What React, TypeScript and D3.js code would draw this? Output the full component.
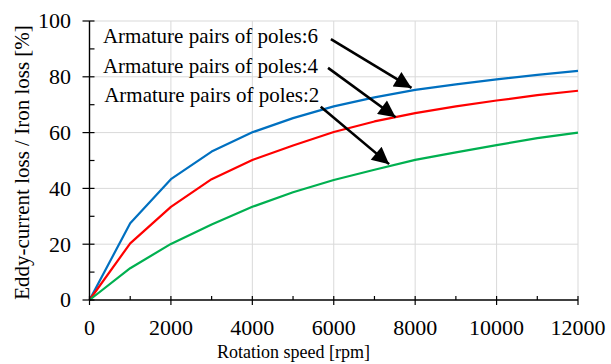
import React from "react";
import * as d3 from "d3";

// Rotation speed [rpm]
const speeds = [0, 1000, 2000, 3000, 4000, 5000, 6000, 7000, 8000, 9000, 10000, 11000, 12000];
// Eddy-current loss share of iron loss [%] per armature pole-pair count
const poles6 = [0, 27.5, 43.3, 53.2, 60.1, 65.2, 69.4, 72.6, 75.3, 77.3, 79.1, 80.7, 82.1];
const poles4 = [0, 20.3, 33.4, 43.3, 50.2, 55.4, 60.2, 64.0, 67.0, 69.4, 71.5, 73.4, 75.0];
const poles2 = [0, 11.4, 20.1, 27.1, 33.4, 38.6, 43.0, 46.7, 50.2, 52.9, 55.5, 58.0, 60.0];

const xTicks = [0, 2000, 4000, 6000, 8000, 10000, 12000];
const xMinorTicks = [1000, 3000, 5000, 7000, 9000, 11000];
const yTicks = [0, 20, 40, 60, 80, 100];
const yMinorTicks = [10, 30, 50, 70, 90];

const seriesLabels = [
  "Armature pairs of poles:6",
  "Armature pairs of poles:4",
  "Armature pairs of poles:2",
];
const seriesColors = ["#0070C0", "#FF0000", "#00B050"];
// Label anchor (rpm, %) and arrow start/end (rpm, %) for each annotation
const labelAt: [number, number][] = [
  [330, 92.1],
  [330, 81.5],
  [360, 70.9],
];
const arrowFrom: [number, number][] = [
  [5930, 93.5],
  [5860, 83.2],
  [5680, 69.3],
];
const arrowTo: [number, number][] = [
  [7910, 76.0],
  [7520, 65.5],
  [7360, 48.7],
];

const W = 611;
const H = 364;
const M = { left: 89.5, right: 33, top: 21, bottom: 64 };
const FONT = "'Liberation Serif', 'Times New Roman', Times, serif";
const textStyle = { fontFamily: FONT };

export default function App() {
  const x = d3.scaleLinear().domain([0, 12000]).range([M.left, W - M.right]);
  const y = d3.scaleLinear().domain([0, 100]).range([H - M.bottom, M.top]);
  const line = d3
    .line<number>()
    .x((_, i) => x(speeds[i]))
    .y((v) => y(v));
  const series = [poles6, poles4, poles2];
  const x0 = x(0);
  const y0 = y(0);

  return (
    <svg
      width={W}
      height={H}
      style={{ position: "absolute", left: 0, top: 0, background: "#fff" }}
    >
      <defs>
        <marker
          id="arrowHead"
          viewBox="0 0 10 10"
          refX="10"
          refY="5"
          markerWidth="8"
          markerHeight="6.5"
          markerUnits="strokeWidth"
          orient="auto"
        >
          <path d="M0,0 L10,5 L0,10 z" fill="#000" />
        </marker>
      </defs>
      <rect x={0} y={0} width={W} height={H} fill="#fff" />

      {/* grid */}
      {xTicks.slice(1).map((t) => (
        <line key={"gx" + t} x1={x(t)} x2={x(t)} y1={y(0)} y2={y(100)} stroke="#d9d9d9" strokeWidth={1} />
      ))}
      {yTicks.slice(1).map((t) => (
        <line key={"gy" + t} x1={x(0)} x2={x(12000)} y1={y(t)} y2={y(t)} stroke="#d9d9d9" strokeWidth={1} />
      ))}

      {/* curves */}
      {series.map((s, i) => (
        <path key={"s" + i} d={line(s) || ""} fill="none" stroke={seriesColors[i]} strokeWidth={2.2} strokeLinejoin="round" />
      ))}

      {/* axes */}
      <line x1={x0} x2={x(12000)} y1={y0} y2={y0} stroke="#000" strokeWidth={1.4} />
      <line x1={x0} x2={x0} y1={y0} y2={y(100)} stroke="#000" strokeWidth={1.4} />
      {xTicks.map((t) => (
        <line key={"tx" + t} x1={x(t)} x2={x(t)} y1={y0 - 4} y2={y0 + 5} stroke="#000" strokeWidth={1.2} />
      ))}
      {xMinorTicks.map((t) => (
        <line key={"mx" + t} x1={x(t)} x2={x(t)} y1={y0 - 4} y2={y0} stroke="#000" strokeWidth={1.2} />
      ))}
      {yTicks.map((t) => (
        <line key={"ty" + t} x1={x0 - 7} x2={x0 + 5} y1={y(t)} y2={y(t)} stroke="#000" strokeWidth={1.2} />
      ))}
      {yMinorTicks.map((t) => (
        <line key={"my" + t} x1={x0} x2={x0 + 5} y1={y(t)} y2={y(t)} stroke="#000" strokeWidth={1.2} />
      ))}

      {/* tick labels */}
      {xTicks.map((t) => (
        <text key={"lx" + t} x={x(t)} y={335} textAnchor="middle" fontSize={22} fill="#000" style={textStyle}>
          {t}
        </text>
      ))}
      {yTicks.map((t) => (
        <text key={"ly" + t} x={71} y={y(t)} dy="0.34em" textAnchor="end" fontSize={22} fill="#000" style={textStyle}>
          {t}
        </text>
      ))}

      {/* axis titles */}
      <text x={293.5} y={358} textAnchor="middle" fontSize={18} fill="#000" style={textStyle}>
        Rotation speed [rpm]
      </text>
      <text
        transform={`translate(29,162.5) rotate(-90)`}
        textAnchor="middle"
        fontSize={21}
        fill="#000"
        style={textStyle}
      >
        Eddy-current loss / Iron loss [%]
      </text>

      {/* annotations */}
      {seriesLabels.map((lab, i) => (
        <g key={"a" + i}>
          <text x={x(labelAt[i][0])} y={y(labelAt[i][1])} fontSize={21} fill="#000" style={textStyle}>
            {lab}
          </text>
          <line
            x1={x(arrowFrom[i][0])}
            y1={y(arrowFrom[i][1])}
            x2={x(arrowTo[i][0])}
            y2={y(arrowTo[i][1])}
            stroke="#000"
            strokeWidth={2.6}
            markerEnd="url(#arrowHead)"
          />
        </g>
      ))}
    </svg>
  );
}
